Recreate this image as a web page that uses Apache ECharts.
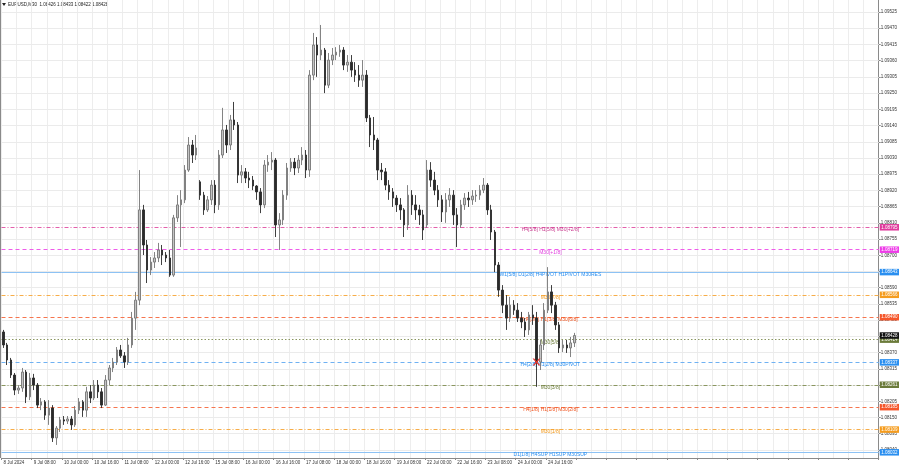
<!DOCTYPE html>
<html><head><meta charset="utf-8">
<script src="https://cdn.jsdelivr.net/npm/echarts@6/dist/echarts.min.js"></script>
<style>html,body{margin:0;padding:0;background:#fff}#c{width:900px;height:468px}</style>
</head><body><div id="c"></div>
<script>
// ---- categories (2-hour candles, trading days only) ----
const tradingDays = ['8 Jul','9 Jul','10 Jul','11 Jul','12 Jul','15 Jul','16 Jul','17 Jul','18 Jul','19 Jul','22 Jul','23 Jul','24 Jul','25 Jul','26 Jul','29 Jul','30 Jul','31 Jul','1 Aug','2 Aug'];
const firstHour = 16;
const barHours = 2;
const slotCount = 234;
const firstLabel = '8 Jul 2024';
const labelEvery = 8;
const gridEvery = 4;
const lastLabelIndex = 144;

// ---- candles: [open, close, low, high] ----
const candles = [
[1.08440,1.08396,1.08386,1.08447],[1.08396,1.08345,1.08328,1.08403],[1.08345,1.08294,1.08284,1.08352],[1.08294,1.08243,1.08226,1.08301],
[1.08243,1.08250,1.08230,1.08260],[1.08250,1.08304,1.08237,1.08318],[1.08304,1.08220,1.08199,1.08311],[1.08220,1.08284,1.08209,1.08301],
[1.08284,1.08260,1.08243,1.08298],[1.08260,1.08192,1.08182,1.08267],[1.08192,1.08203,1.08175,1.08216],[1.08203,1.08158,1.08142,1.08209],
[1.08158,1.08182,1.08125,1.08209],[1.08182,1.08081,1.08067,1.08192],[1.08081,1.08114,1.08057,1.08121],[1.08114,1.08142,1.08101,1.08152],
[1.08142,1.08138,1.08125,1.08155],[1.08138,1.08145,1.08128,1.08155],[1.08145,1.08125,1.08108,1.08155],[1.08125,1.08175,1.08118,1.08189],
[1.08175,1.08203,1.08162,1.08216],[1.08203,1.08175,1.08152,1.08209],[1.08175,1.08237,1.08152,1.08254],[1.08237,1.08216,1.08199,1.08260],
[1.08216,1.08260,1.08209,1.08277],[1.08260,1.08237,1.08216,1.08277],[1.08237,1.08192,1.08182,1.08250],[1.08192,1.08277,1.08189,1.08294],
[1.08277,1.08318,1.08260,1.08328],[1.08318,1.08338,1.08304,1.08352],[1.08338,1.08379,1.08328,1.08389],[1.08379,1.08359,1.08352,1.08396],
[1.08359,1.08338,1.08318,1.08372],[1.08338,1.08396,1.08328,1.08420],[1.08396,1.08487,1.08386,1.08508],[1.08487,1.08548,1.08447,1.08576],
[1.08548,1.08854,1.08531,1.08989],[1.08854,1.08735,1.08701,1.08871],[1.08735,1.08650,1.08606,1.08752],[1.08650,1.08677,1.08633,1.08694],
[1.08677,1.08691,1.08657,1.08711],[1.08691,1.08718,1.08677,1.08742],[1.08718,1.08701,1.08667,1.08735],[1.08701,1.08691,1.08677,1.08711],
[1.08691,1.08633,1.08627,1.08718],[1.08633,1.08827,1.08627,1.08837],[1.08827,1.08871,1.08813,1.08904],[1.08871,1.08888,1.08728,1.08921],
[1.08888,1.08989,1.08877,1.09006],[1.08989,1.09074,1.08983,1.09101],[1.09074,1.09040,1.09013,1.09091],[1.09040,1.09064,1.09023,1.09108],
[1.08949,1.08904,1.08888,1.08955],[1.08904,1.08854,1.08837,1.08915],[1.08854,1.08888,1.08847,1.08901],[1.08888,1.08938,1.08871,1.08955],
[1.08938,1.08871,1.08843,1.08955],[1.08871,1.09040,1.08854,1.09057],[1.09040,1.09125,1.09030,1.09200],[1.09125,1.09074,1.09047,1.09142],
[1.09074,1.09159,1.09057,1.09176],[1.09159,1.09142,1.09125,1.09220],[1.09142,1.08972,1.08945,1.09152],[1.08972,1.08983,1.08945,1.09006],
[1.08983,1.08962,1.08945,1.08996],[1.08962,1.08955,1.08928,1.08983],[1.08955,1.08935,1.08921,1.08969],[1.08935,1.08915,1.08888,1.08938],
[1.08915,1.08871,1.08843,1.08928],[1.08871,1.09006,1.08860,1.09023],[1.09006,1.09016,1.08983,1.09040],[1.09016,1.09023,1.08989,1.09050],
[1.09023,1.08803,1.08762,1.09030],[1.08803,1.08820,1.08718,1.08843],[1.08820,1.08904,1.08803,1.08921],[1.08904,1.08996,1.08888,1.09013],
[1.08996,1.09016,1.08983,1.09030],[1.09016,1.08996,1.08972,1.09030],[1.08996,1.09023,1.08979,1.09040],[1.09023,1.09040,1.09006,1.09067],
[1.09040,1.08989,1.08962,1.09057],[1.08989,1.09311,1.08966,1.09328],[1.09311,1.09413,1.09294,1.09454],[1.09413,1.09379,1.09305,1.09440],
[1.09379,1.09396,1.09362,1.09481],[1.09396,1.09277,1.09250,1.09403],[1.09277,1.09362,1.09267,1.09386],[1.09362,1.09379,1.09345,1.09403],
[1.09379,1.09389,1.09362,1.09406],[1.09389,1.09396,1.09373,1.09413],[1.09396,1.09345,1.09328,1.09406],[1.09345,1.09355,1.09322,1.09379],
[1.09355,1.09328,1.09305,1.09379],[1.09328,1.09311,1.09288,1.09355],[1.09311,1.09294,1.09271,1.09345],[1.09294,1.09311,1.09271,1.09362],
[1.09311,1.09166,1.09152,1.09328],[1.09166,1.09108,1.09067,1.09176],[1.09108,1.09091,1.09057,1.09169],[1.09091,1.08989,1.08955,1.09098],
[1.08989,1.08983,1.08955,1.09013],[1.08983,1.08938,1.08921,1.08996],[1.08938,1.08915,1.08888,1.08955],[1.08915,1.08894,1.08864,1.08928],
[1.08894,1.08871,1.08847,1.08904],[1.08871,1.08854,1.08820,1.08894],[1.08854,1.08803,1.08762,1.08860],[1.08803,1.08904,1.08786,1.08938],
[1.08904,1.08871,1.08837,1.08921],[1.08871,1.08854,1.08820,1.08904],[1.08854,1.08837,1.08803,1.08871],[1.08837,1.08786,1.08752,1.08854],
[1.08803,1.08989,1.08793,1.09023],[1.08989,1.08955,1.08932,1.09016],[1.08955,1.08921,1.08904,1.08983],[1.08921,1.08888,1.08864,1.08938],
[1.08888,1.08847,1.08813,1.08904],[1.08847,1.08888,1.08810,1.08911],[1.08888,1.08904,1.08864,1.08928],[1.08904,1.08837,1.08803,1.08921],
[1.08837,1.08803,1.08728,1.08860],[1.08803,1.08871,1.08793,1.08888],[1.08871,1.08894,1.08854,1.08911],[1.08894,1.08888,1.08864,1.08915],
[1.08888,1.08901,1.08871,1.08921],[1.08901,1.08904,1.08881,1.08921],[1.08904,1.08921,1.08888,1.08938],[1.08921,1.08938,1.08911,1.08962],
[1.08938,1.08854,1.08837,1.08945],[1.08854,1.08779,1.08752,1.08871],[1.08779,1.08667,1.08643,1.08786],[1.08667,1.08582,1.08559,1.08677],
[1.08582,1.08531,1.08504,1.08599],[1.08531,1.08487,1.08447,1.08565],[1.08487,1.08531,1.08474,1.08559],[1.08531,1.08514,1.08498,1.08548],
[1.08514,1.08487,1.08474,1.08538],[1.08487,1.08474,1.08453,1.08508],[1.08474,1.08447,1.08423,1.08487],[1.08447,1.08498,1.08430,1.08508],
[1.08498,1.08487,1.08464,1.08531],[1.08487,1.08338,1.08254,1.08508],[1.08338,1.08396,1.08311,1.08413],[1.08396,1.08514,1.08379,1.08538],
[1.08514,1.08576,1.08504,1.08660],[1.08576,1.08531,1.08504,1.08599],[1.08531,1.08464,1.08447,1.08542],[1.08464,1.08386,1.08369,1.08474],
[1.08386,1.08396,1.08372,1.08413],[1.08396,1.08386,1.08369,1.08413],[1.08386,1.08403,1.08355,1.08423],[1.08403,1.08428,1.08389,1.08437]
];

// ---- price axis ticks ----
const yTicks = [1.08040,1.08095,1.08150,1.08205,1.08260,1.08315,1.08370,1.08425,1.08480,1.08535,1.08590,1.08645,1.08700,1.08755,
  1.08810,1.08865,1.08920,1.08975,1.09030,1.09085,1.09140,1.09195,1.09250,1.09305,1.09360,1.09415,1.09470,1.09525];
const yMin = 1.080127, yMax = 1.095657;

// ---- Murrey levels ----
const levelPrices = [1.08795,1.08719,1.08643,1.08566,1.08490,1.08414,1.08337,1.08261,1.08185,1.08109,1.08032];
const levelNames = ['H4[5/8] H1[5/8] M30[+2/8]','M30[+1/8]','W1[5/8] D1[2/8] H4PIVOT H1PIVOT M30RES','M30[7/8]',
  'H4[3/8] H1[3/8] M30[6/8]','M30[5/8]','H4[2/8] H1[2/8] M30PIVOT','M30[3/8]','H4[1/8] H1[1/8] M30[2/8]','M30[1/8]','D1[1/8] H4SUP H1SUP M30SUP'];
const levelColors = ['#e03a9c','#ee3ce8','#2a8ff0','#f59c1e','#f5562a','#6b7b3a','#2a8ff0','#6b7b3a','#f5562a','#f59c1e','#2a8ff0'];
const levelLineColors = ['#e35fab','#ef5cea','#8dc2f4','#f7ad48','#f6754e','#8a9660','#6fb1f2','#8a9660','#f6754e','#f7ad48','#8dc2f4'];
const levelTextColors = ['#c93a8e','#e23fe0','#2a8ff0','#f39a1c','#f0541f','#6d7d3a','#2a8ff0','#6d7d3a','#f0541f','#f39a1c','#2a8ff0'];
const levelDash = ['dashdot','dash','solid','dashdot','dash','dot','dash','dashdot','dash','dashdot','solid'];
const levelTextSlot = 144;
const lastPrice = 1.08428;
const markerSlot = 141, markerPrice = 1.08338;
const titleText = 'EURUSD,M30  1.08426 1.08433 1.08422 1.08428';

// build category names
const categories = [];
for (let d = 0; d < tradingDays.length && categories.length < slotCount; d++) {
  for (let h = 0; h < 24 && categories.length < slotCount; h += barHours) {
    if (d === 0 && h < firstHour) continue;
    categories.push(tradingDays[d] + ' ' + String(h).padStart(2, '0') + ':00');
  }
}
const dashMap = { solid: 'solid', dash: [4, 3], dashdot: [4, 2, 1, 2], dot: [1.5, 2] };
const FONT = 'Liberation Sans';

const allLines = yTicks.map(v => ({
  yAxis: v, lineStyle: { color: '#ebebeb', type: 'solid', width: 1 }, label: { show: false }
}));
levelPrices.forEach((p, i) => allLines.push({
  yAxis: p,
  lineStyle: { color: levelLineColors[i], type: dashMap[levelDash[i]], width: 1, opacity: 1 },
  label: { show: true, position: 'end', distance: 1, formatter: p.toFixed(5), color: '#fff',
    backgroundColor: levelColors[i], padding: [1, 1.5, 0.5, 1.5], fontSize: 4.5, fontFamily: FONT }
}));
allLines.push({
  yAxis: lastPrice,
  lineStyle: { color: 'rgba(0,0,0,0)' },
  label: { show: true, position: 'end', distance: 1, formatter: lastPrice.toFixed(5), color: '#fff',
    backgroundColor: '#111', padding: [1, 1.5, 0.5, 1.5], fontSize: 4.5, fontFamily: FONT }
});
const levelTexts = levelPrices.map((p, i) => ({
  coord: [categories[levelTextSlot], p],
  symbol: 'rect', symbolSize: 1, itemStyle: { color: 'rgba(0,0,0,0)' },
  label: { show: true, position: 'inside', offset: [2.5, 2.5], formatter: levelNames[i], color: levelTextColors[i],
    fontSize: 5, fontFamily: FONT }
}));

const chart = echarts.init(document.getElementById('c'), null, { renderer: 'canvas' });
chart.setOption({
  animation: false,
  backgroundColor: '#ffffff',
  grid: { left: 1.5, right: 21, top: 0, bottom: 10, containLabel: false },
  xAxis: {
    type: 'category', data: categories, boundaryGap: true,
    axisLine: { show: true, lineStyle: { color: '#8a8a8a', width: 1 } },
    axisTick: { show: true, length: 2, interval: labelEvery - 1, lineStyle: { color: '#8a8a8a' } },
    axisLabel: { show: true, interval: (i) => i % labelEvery === 0 && i <= lastLabelIndex,
      formatter: (v, i) => i === 0 ? firstLabel : v, align: 'left', fontSize: 4.5, color: '#333', margin: 2, fontFamily: FONT },
    splitLine: { show: true, interval: gridEvery - 1, lineStyle: { color: '#ededed', width: 1 } }
  },
  yAxis: {
    type: 'value', position: 'right', min: yMin, max: yMax, scale: true,
    axisLine: { show: true, lineStyle: { color: '#8a8a8a', width: 1 } },
    axisTick: { show: true, length: 2, customValues: yTicks, lineStyle: { color: '#8a8a8a' } },
    axisLabel: { show: true, customValues: yTicks, formatter: (v) => v.toFixed(5), fontSize: 4.5, color: '#333', margin: 2, fontFamily: FONT },
    splitLine: { show: false }
  },
  graphic: [
    { type: 'line', shape: { x1: 0.75, y1: 0, x2: 0.75, y2: 458 }, style: { stroke: '#8a8a8a', lineWidth: 1.5 } },
    { type: 'polygon', shape: { points: [[2, 3], [6, 3], [4, 6]] }, style: { fill: '#222' } },
    { type: 'text', left: 8, top: 2, style: { text: titleText, fontSize: 4.5, fill: '#222', fontFamily: FONT } }
  ],
  series: [
    {
      name: 'levels', type: 'line', data: [], z: 1, silent: true,
      markPoint: { silent: true, z: 1, animation: false, data: levelTexts }
    },
    {
      name: 'EURUSD', type: 'candlestick', data: candles, z: 3, barWidth: 2,
      itemStyle: { color: '#c4c4c4', color0: '#2a2a2a', borderColor: '#767676', borderColor0: '#2a2a2a', borderWidth: 0.9 },
      markLine: { silent: true, z: 1, precision: 6, symbol: ['none', 'none'], animation: false, data: allLines },
      markPoint: { silent: true, z: 6, animation: false, data: [{
        coord: [categories[markerSlot], markerPrice],
        symbol: 'path://M0,0 L2,0 L5,3 L8,0 L10,0 L6,4 L10,8 L8,8 L5,5 L2,8 L0,8 L4,4 Z',
        symbolSize: [8, 7], itemStyle: { color: '#e8312a' }, label: { show: false } }] }
    }
  ]
});
</script></body></html>
